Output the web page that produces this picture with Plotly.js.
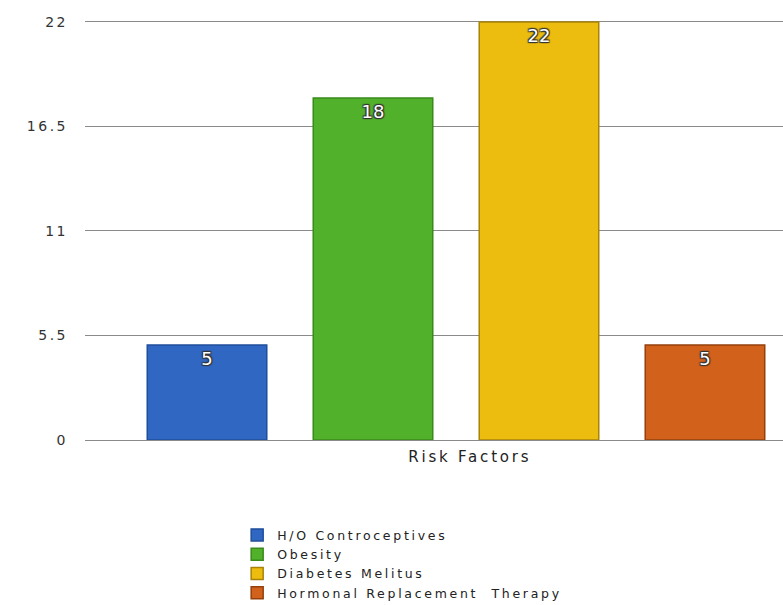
<!DOCTYPE html>
<html>
<head>
<meta charset="utf-8">
<script src="https://cdn.plot.ly/plotly-3.0.1.min.js"></script>
<style>
  html, body { margin: 0; padding: 0; background: #ffffff; }
  #chart { width: 783px; height: 605px; }
  /* wide, airy lettering for legend, axis labels and axis title */
  #chart .legendtext { letter-spacing: 2.7px; }
  #chart .legend .scrollbox { clip-path: none !important; }
  #chart .ytick text { letter-spacing: 2.5px; }
  #chart .annotation-text { letter-spacing: 2.8px; }
</style>
</head>
<body>
<div id="chart"></div>
<script>
// Risk factor counts
const categories = ["H/O Controceptives", "Obesity", "Diabetes Melitus", "Hormonal Replacement\u00a0 Therapy"];
const counts = [5, 18, 22, 5];
const barColors = ["#2f67c2", "#52b12b", "#ecbd0e", "#d2611b"];
const edgeColors = ["#1f4e9a", "#3a8a1c", "#a8820a", "#94400d"];
const tickValues = [0, 5.5, 11, 16.5, 22];
const tickLabels = ["0", "5.5", "11", "16.5", "22"];
const axisTitle = "Risk Factors";

const FONT = "DejaVu Sans, Liberation Sans, Arial, sans-serif";

const traces = categories.map((name, i) => ({
  type: "bar",
  name: name,
  x: [name],
  y: [counts[i]],
  text: [String(counts[i])],
  textposition: "inside",
  insidetextanchor: "end",
  textangle: 0,
  textfont: {
    family: FONT,
    size: 18,
    color: "#ffffff",
    shadow: "1px 1px 1px #333, -1px -1px 1px #333, 1px -1px 1px #333, -1px 1px 1px #333"
  },
  marker: {
    color: barColors[i],
    line: { color: edgeColors[i], width: 1.5 }
  },
  hoverinfo: "skip"
}));

const layout = {
  width: 783,
  height: 605,
  margin: { l: 85, r: 0, t: 20, b: 165 },
  paper_bgcolor: "#ffffff",
  plot_bgcolor: "#ffffff",
  font: { family: FONT, color: "#333333", size: 14 },
  showlegend: true,
  barmode: "group",
  bargap: 0.28,
  xaxis: {
    type: "category",
    range: [-0.735, 3.47],
    showticklabels: false,
    showgrid: false,
    zeroline: false,
    showline: false,
    ticks: ""
  },
  yaxis: {
    range: [0, 22.1],
    tickvals: tickValues,
    ticktext: tickLabels,
    showgrid: true,
    gridcolor: "#8a8a8a",
    gridwidth: 1,
    zeroline: true,
    zerolinecolor: "#8a8a8a",
    zerolinewidth: 1,
    showline: false,
    ticks: "",
    ticklabelstandoff: 16,
    tickfont: { size: 14, color: "#333333" }
  },
  legend: {
    orientation: "v",
    xref: "paper",
    x: 0.218,
    xanchor: "left",
    yref: "container",
    y: 0.14,
    yanchor: "top",
    font: { size: 12.5, color: "#222222" },
    tracegroupgap: 0,
    itemwidth: 30,
    bgcolor: "rgba(0,0,0,0)"
  },
  annotations: [{
    text: axisTitle,
    xref: "paper",
    yref: "paper",
    x: 0.552,
    y: -0.015,
    xanchor: "center",
    yanchor: "top",
    showarrow: false,
    font: { size: 15, color: "#222222" }
  }]
};

Plotly.newPlot("chart", traces, layout, { displayModeBar: false, staticPlot: true });
</script>
</body>
</html>
